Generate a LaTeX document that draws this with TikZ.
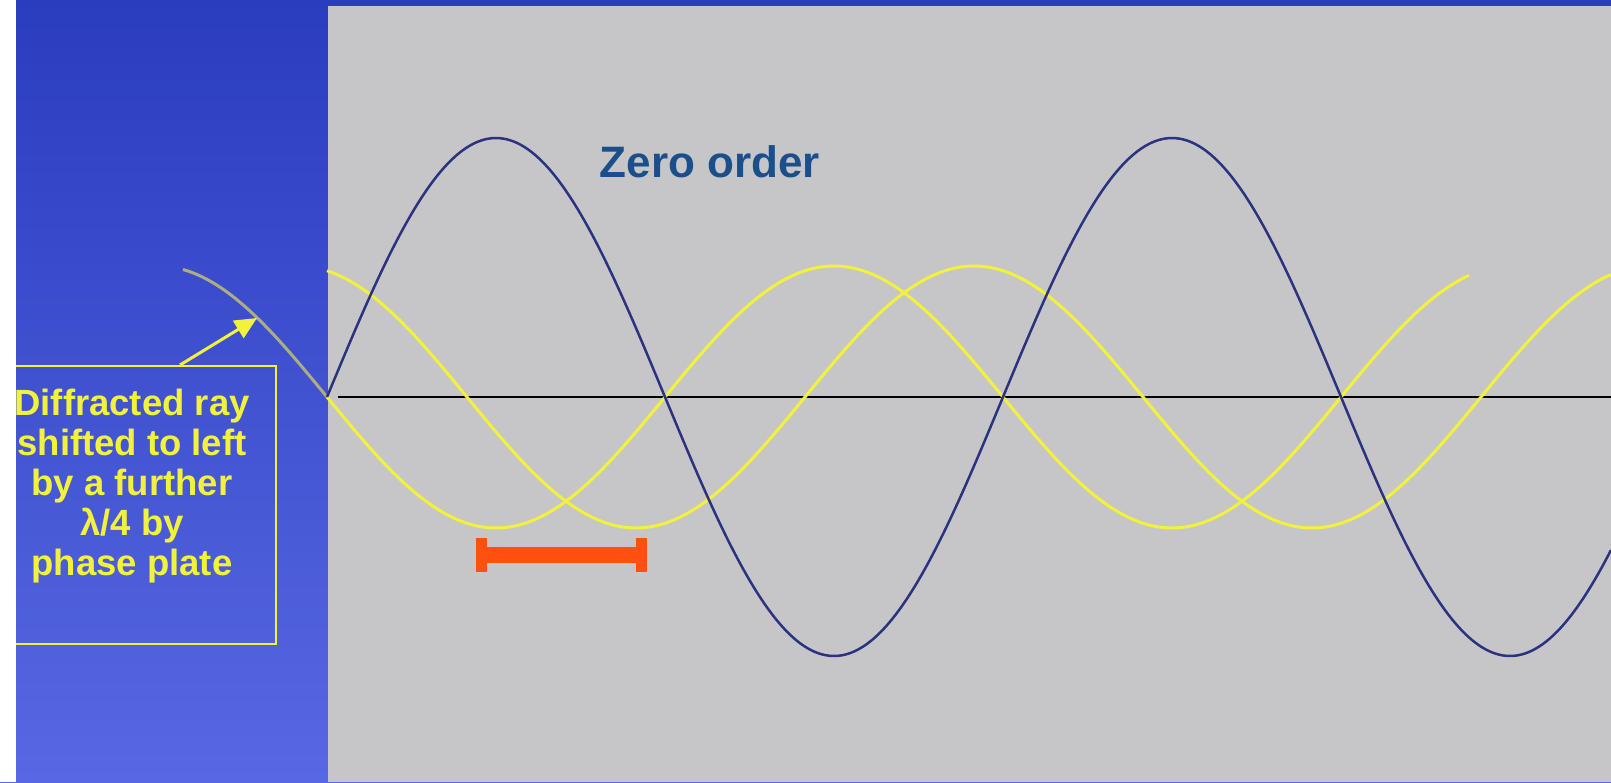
\documentclass[tikz,border=0pt]{standalone}
\usepackage{fontspec}
\setmainfont{Liberation Sans}
\usetikzlibrary{arrows.meta}
\definecolor{slidetop}{HTML}{2A3DBE}
\definecolor{slidebot}{HTML}{5868E4}
\definecolor{panel}{HTML}{C6C6C8}
\definecolor{zero}{HTML}{2D3280}
\definecolor{ray}{HTML}{F2F23C}
\definecolor{raydim}{HTML}{ADAD82}
\definecolor{label}{HTML}{1A4F8C}
\definecolor{bar}{HTML}{FF5010}

\begin{document}
\begin{tikzpicture}[x=1pt, y=-1pt,
    w/.style={line width=3pt, smooth, samples=180},
    frame/.style={draw=ray, line width=2pt, minimum width=286pt, minimum height=278pt, inner sep=0pt},
    note/.style={text=ray, align=center, inner sep=0pt, font=\fontsize{36.5}{40}\selectfont\bfseries},
    pointer/.style={ray, line width=3pt, -{Triangle[length=22pt, width=20pt]}}]

    \useasboundingbox (0,0) rectangle (1611,782);
    % slide background and plot panel
    \shade[top color=slidetop, bottom color=slidebot] (0,0) rectangle (1611,782);
    \fill[panel] (328,6) rectangle (1611,782);
    \draw[black, line width=2pt] (338,397) -- (1611,397);

    % shifted diffracted rays and zero order
    \draw[w, raydim] plot[domain=183:327] (\x,{397+131*sin(((\x-327)/676)*360)});
    \draw[w, ray] plot[domain=327:1469] (\x,{397+131*sin(((\x-327)/676)*360)});
    \draw[w, ray] plot[domain=327:1611] (\x,{397+131*sin(((\x-467)/676)*360)});
    \draw[w, zero, line width=2.5pt] plot[domain=327:1611] (\x,{397-259*sin(((\x-327)/676)*360)});
    \coordinate (tip) at (257,318);

    \node[font=\fontsize{44}{50}\selectfont\bfseries, text=label, anchor=base] (zerolbl) at (710,177) {Zero order};

    % shift marker
    \fill[bar] (476,547) rectangle (647,563);
    \fill[bar] (476,538) rectangle (487,572);
    \fill[bar] (636,538) rectangle (647,572);

    \node[frame] (box) at (133,505) {};
    \node[note, anchor=north] (note) at (132,389) {Diffracted ray\\shifted to left\\by a further\\λ/4 by\\phase plate};
    \draw[pointer] ([xshift=47pt]box.north) -- (tip);

    \fill[white] (0,0) rectangle (16,782);
\end{tikzpicture}
\end{document}
